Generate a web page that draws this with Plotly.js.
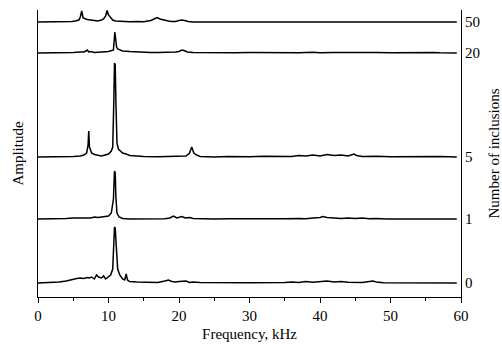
<!DOCTYPE html>
<html>
<head>
<meta charset="utf-8">
<script src="https://cdn.plot.ly/plotly-3.0.1.min.js"></script>
<style>html,body{margin:0;padding:0;background:#fff;}#chart{width:502px;height:345px;}</style>
</head>
<body>
<div id="chart"></div>
<script>
// Number of inclusions (right-axis labels) and the vertical offset of each spectrum
const counts = ["0", "1", "5", "20", "50"];
const offsets = [14, 78, 140, 244, 275];

// Spectrum: 0 inclusions
const freq0 = [0, 2, 3, 4, 4.5, 5, 5.5, 6, 6.5, 7, 7.3, 7.6, 8, 8.3, 8.6, 9, 9.3, 9.6, 10, 10.3, 10.6, 10.75, 10.85, 10.95, 11.05, 11.15, 11.3, 11.6, 12, 12.3, 12.5, 12.7, 13, 14, 15, 16, 17, 18, 18.5, 19, 19.5, 20, 21, 21.5, 22, 23, 25, 30, 35, 36, 37, 38, 39, 40, 41, 42, 43, 44, 45, 46, 47, 47.5, 48, 49, 59.4];
const amp0  = [0, 0.3, 1, 2, 3, 4, 4.5, 5, 4.5, 5.5, 5, 6, 4, 8, 6, 5, 7, 4, 6, 8, 14, 38, 56, 55, 42, 22, 14, 8, 4, 3, 9, 3, 1.5, 1, 0.8, 1, 0.5, 2, 3, 1.5, 1, 1.5, 2, 0.5, 1, 0.5, 0.3, 0.3, 0.5, 1, 0.5, 1.5, 0.8, 1.5, 2, 1, 1.5, 0.8, 1, 0.5, 1.5, 2, 1, 0.3, 0];

// Spectrum: 1 inclusion
const freq1 = [0, 3, 4, 5, 6, 7, 7.5, 8, 8.5, 9, 9.5, 10, 10.4, 10.7, 10.85, 10.95, 11.05, 11.2, 11.5, 12, 13, 14, 15, 16, 17, 18, 18.7, 19.2, 19.7, 20.4, 20.9, 21.5, 22, 23, 25, 27, 30, 33, 35, 37, 38, 39, 40, 40.4, 41, 42, 43, 44, 45, 46, 47, 48, 49.5, 59.4];
const amp1  = [0, 0, 0.5, 1, 1, 1.5, 1, 2, 1.5, 2, 2.5, 3, 6, 20, 48, 46, 22, 6, 2, 0.5, 0, 0, 0, 0, 0, 0.3, 1, 3, 1, 2.5, 1, 1.5, 0.5, 0.3, 0, 0.3, 0, 0.3, 0.2, 0.5, 0.3, 1, 1.5, 2.5, 1.5, 1, 0.5, 1, 0.5, 1, 0.3, 0.5, 0, 0];

// Spectrum: 5 inclusions
const freq5 = [0, 2, 3, 4, 5, 6, 6.5, 6.9, 7.1, 7.2, 7.3, 7.6, 8, 9, 10, 10.4, 10.6, 10.75, 10.85, 10.95, 11.05, 11.2, 11.4, 11.7, 12, 12.5, 13, 14, 15, 17, 19, 20, 21, 21.5, 21.8, 22.1, 22.5, 23, 24, 25, 27, 30, 32, 34, 35, 36, 37, 38, 39, 40, 41, 42, 43, 44, 44.8, 45.2, 46, 48, 50, 52, 55, 57, 59.4];
const amp5  = [0, 0, 0.3, 0.5, 0.5, 1, 2, 4, 12, 26, 10, 4, 2.5, 1, 3, 6, 10, 55, 94, 92, 55, 14, 8, 6, 4, 3, 1.5, 1, 0.5, 0.3, 0.5, 0.3, 1, 4, 10, 4, 2, 0.5, 0.2, 0, 0.5, 0.2, 0.8, 0.5, 1, 0.5, 1.5, 1, 2, 1, 2.5, 1.5, 2, 1, 3, 1.5, 0.5, 0.8, 0.3, 0.5, 0.2, 0.5, 0];

// Spectrum: 20 inclusions
const freq20 = [0, 3, 5, 6, 6.5, 6.8, 7, 7.2, 7.5, 8, 9, 10, 10.7, 10.9, 11.05, 11.15, 11.3, 11.6, 12, 13, 14, 15, 16, 17, 18, 19, 19.5, 20, 20.4, 20.7, 21.2, 22, 24, 26, 28, 30, 33, 35, 37, 39, 40, 42, 44, 46, 48, 50, 52, 54, 56, 57, 59.4];
const amp20  = [0, 0, 0.5, 1, 1, 2, 3, 1, 1.5, 0.5, 1, 1.5, 3, 21, 12, 6, 4, 3, 2, 1.5, 1, 1, 0.5, 0.5, 0.5, 1, 1, 1.5, 3, 2.5, 1, 0.5, 0.3, 0.5, 0.3, 0.5, 0.3, 0.5, 0.3, 0.7, 0.3, 0.5, 0.7, 0.3, 0.5, 0.3, 0.5, 0.3, 0.5, 0.2, 0];

// Spectrum: 50 inclusions
const freq50 = [0, 4, 4.8, 5.3, 5.8, 6.0, 6.2, 6.4, 6.7, 7, 7.5, 8, 8.5, 9, 9.3, 9.6, 9.8, 10.0, 10.3, 10.6, 11, 12, 13, 14, 15, 16, 16.5, 16.9, 17.3, 17.8, 18.5, 19, 19.5, 20, 20.4, 20.8, 21.3, 22, 59.4];
const amp50  = [0, 0, 0.5, 1, 2, 5, 11, 4, 3, 2.5, 2, 1.5, 1, 2, 3, 6, 11.5, 7, 4, 2, 1, 0.5, 0.3, 0.5, 0.3, 1.5, 3, 4.5, 3, 2, 1, 0.5, 0.5, 1.5, 2, 1.5, 0.5, 0, 0];

const freqs = [freq0, freq1, freq5, freq20, freq50];
const amps = [amp0, amp1, amp5, amp20, amp50];

const font = "Liberation Serif, Times New Roman, serif";
const traces = counts.map((c, i) => ({
  type: "scatter",
  mode: "lines",
  name: c,
  x: freqs[i],
  y: amps[i].map(v => v + offsets[i]),
  line: {color: "#000", width: 1.5},
  hoverinfo: "skip",
  showlegend: false
}));
// invisible trace to activate the right axis
traces.push({type: "scatter", mode: "lines", x: [0], y: [0], yaxis: "y2", line: {width: 0}, showlegend: false, hoverinfo: "skip"});

const layout = {
  width: 502, height: 345,
  margin: {l: 38, r: 41, t: 10, b: 48},
  paper_bgcolor: "#fff", plot_bgcolor: "#fff",
  font: {family: font, size: 15, color: "#000"},
  showlegend: false,
  xaxis: {
    range: [0, 60], showgrid: false, zeroline: false,
    showline: true, linecolor: "#000", linewidth: 1,
    ticks: "outside", ticklen: 5, tickcolor: "#000", dtick: 10, tick0: 0,
    minor: {dtick: 5, ticks: "outside", ticklen: 3, tickcolor: "#000"},
    tickfont: {family: font, size: 15, color: "#000"},
    title: {text: "Frequency, kHz", font: {family: font, size: 15, color: "#000"}, standoff: 5}
  },
  yaxis: {
    range: [0, 287], showgrid: false, zeroline: false,
    showline: true, linecolor: "#000", linewidth: 1,
    showticklabels: false, ticks: "",
    title: {text: "Amplitude", font: {family: font, size: 15, color: "#000"}, standoff: 9}
  },
  yaxis2: {
    overlaying: "y", side: "right",
    range: [0, 287], showgrid: false, zeroline: false,
    showline: true, linecolor: "#000", linewidth: 1,
    ticks: "", tickvals: offsets, ticktext: counts,
    tickfont: {family: font, size: 15, color: "#000"},
    title: {text: "Number of inclusions", font: {family: font, size: 15, color: "#000"}, standoff: 10}
  }
};

Plotly.newPlot("chart", traces, layout, {staticPlot: true, displayModeBar: false});
</script>
</body>
</html>
